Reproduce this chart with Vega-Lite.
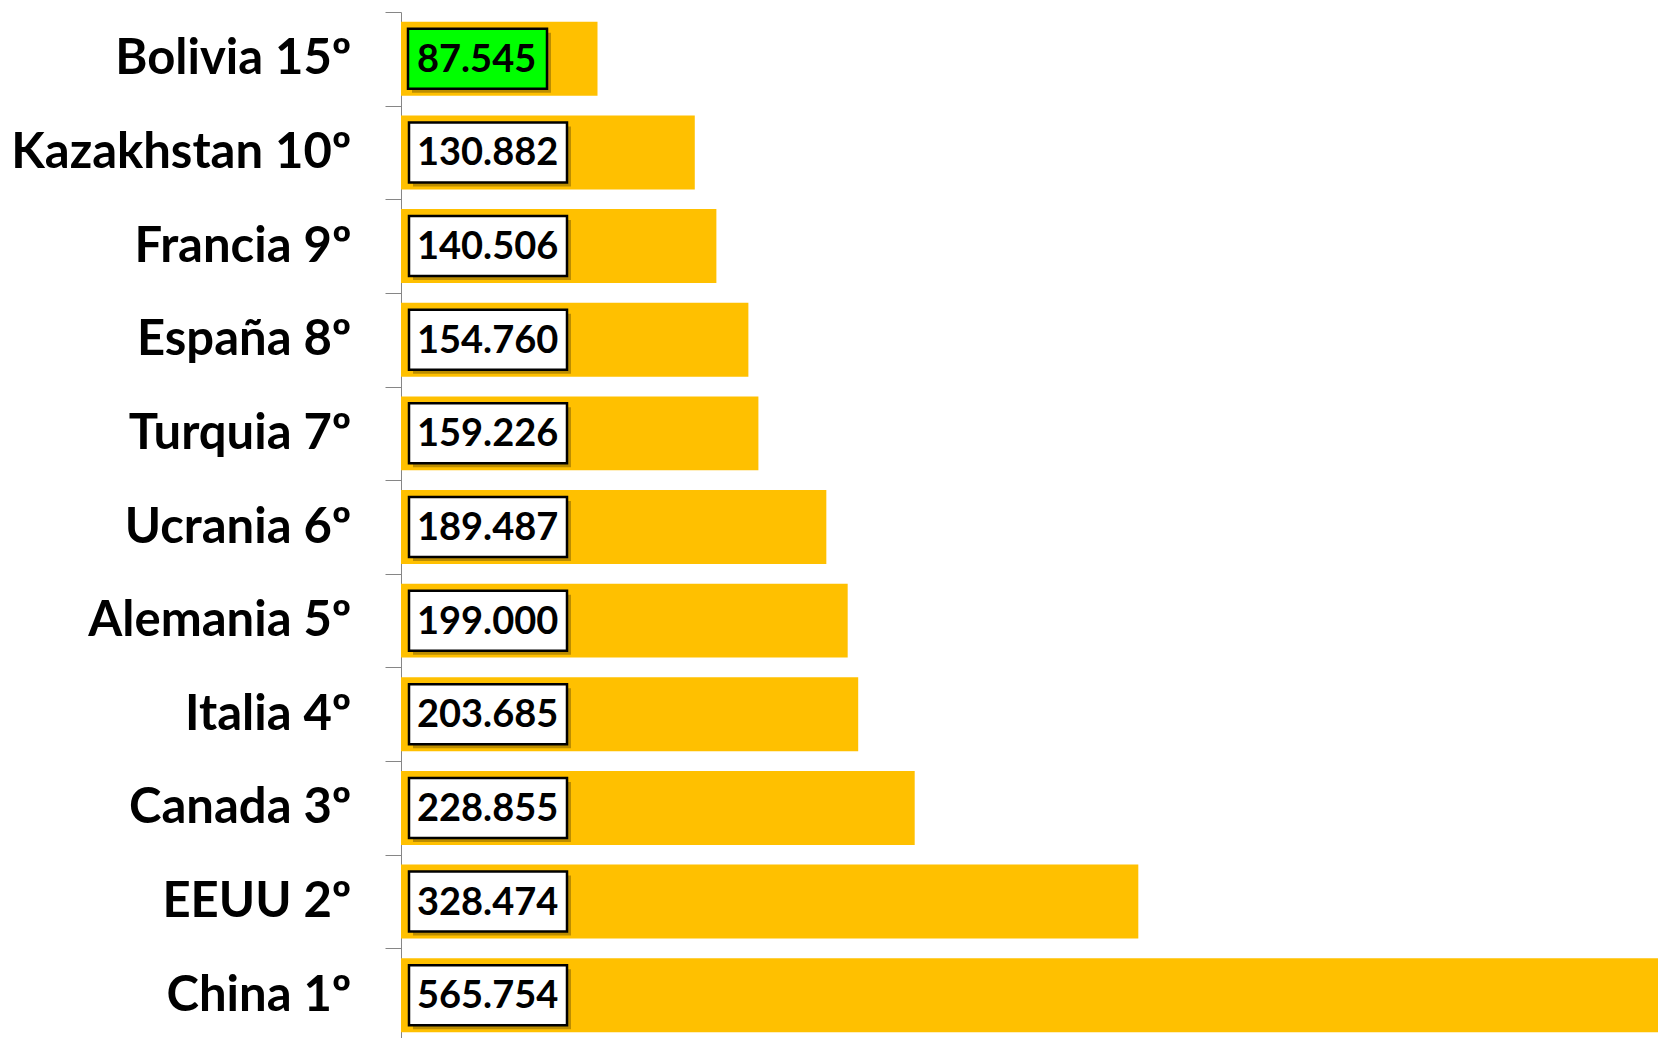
{
  "$schema": "https://vega.github.io/schema/vega-lite/v6.json",
  "width": 1257,
  "height": 1026,
  "autosize": {"type": "none"},
  "padding": {"left": 401, "top": 12, "right": 0, "bottom": 0},
  "background": "white",
  "config": {"view": {"stroke": null}},
  "data": {
    "values": [
      {"pais": "Bolivia 15º", "valor": 87.545},
      {"pais": "Kazakhstan 10º", "valor": 130.882},
      {"pais": "Francia 9º", "valor": 140.506},
      {"pais": "España 8º", "valor": 154.760},
      {"pais": "Turquia 7º", "valor": 159.226},
      {"pais": "Ucrania 6º", "valor": 189.487},
      {"pais": "Alemania 5º", "valor": 199.000},
      {"pais": "Italia 4º", "valor": 203.685},
      {"pais": "Canada 3º", "valor": 228.855},
      {"pais": "EEUU 2º", "valor": 328.474},
      {"pais": "China 1º", "valor": 565.754}
    ]
  },
  "encoding": {
    "y": {
      "field": "pais",
      "type": "nominal",
      "sort": null,
      "scale": {"paddingInner": 0, "paddingOuter": 0, "range": [0, 1030]},
      "axis": {
        "title": null,
        "domainColor": "#868686",
        "domainWidth": 1,
        "tickColor": "#868686",
        "tickWidth": 1,
        "tickSize": 16,
        "tickBand": "extent",
        "labelFont": "Lato",
        "labelFontWeight": "bold",
        "labelFontSize": 49,
        "labelColor": "black",
        "labelPadding": 34,
        "labelLimit": 500,
        "grid": false
      }
    }
  },
  "layer": [
    {
      "mark": {"type": "bar", "color": "#FFC000", "height": {"band": 0.79}, "clip": true},
      "encoding": {
        "x": {"field": "valor", "type": "quantitative", "scale": {"domain": [0, 560], "nice": false, "zero": true}, "axis": null}
      }
    },
    {
      "transform": [{"filter": "datum.pais !== 'Bolivia 15º'"}],
      "mark": {"type": "point", "shape": "M -1 -0.3797 H 1 V 0.3797 H -1 Z", "size": 24964, "filled": true, "color": "#6b5000", "opacity": 0.45, "strokeWidth": 0, "xOffset": 91, "yOffset": 4},
      "encoding": {"x": {"datum": 0, "type": "quantitative", "axis": null}}
    },
    {
      "transform": [{"filter": "datum.pais !== 'Bolivia 15º'"}],
      "mark": {"type": "point", "shape": "M -1 -0.3797 H 1 V 0.3797 H -1 Z", "size": 24964, "filled": true, "fill": "white", "stroke": "black", "strokeWidth": 2.5, "opacity": 1, "xOffset": 87},
      "encoding": {"x": {"datum": 0, "type": "quantitative", "axis": null}}
    },
    {
      "transform": [{"filter": "datum.pais === 'Bolivia 15º'"}],
      "mark": {"type": "point", "shape": "M -1 -0.4317 H 1 V 0.4317 H -1 Z", "size": 19321, "filled": true, "color": "#6b5000", "opacity": 0.45, "strokeWidth": 0, "xOffset": 80.5, "yOffset": 4},
      "encoding": {"x": {"datum": 0, "type": "quantitative", "axis": null}}
    },
    {
      "transform": [{"filter": "datum.pais === 'Bolivia 15º'"}],
      "mark": {"type": "point", "shape": "M -1 -0.4317 H 1 V 0.4317 H -1 Z", "size": 19321, "filled": true, "fill": "#00FF00", "stroke": "black", "strokeWidth": 2.5, "opacity": 1, "xOffset": 76.5},
      "encoding": {"x": {"datum": 0, "type": "quantitative", "axis": null}}
    },
    {
      "mark": {"type": "text", "align": "left", "baseline": "middle", "dx": 16, "dy": 2, "font": "Lato", "fontWeight": "bold", "fontSize": 38, "color": "black"},
      "encoding": {
        "x": {"datum": 0, "type": "quantitative", "axis": null},
        "text": {"field": "valor", "type": "quantitative", "format": ".3f"}
      }
    }
  ]
}
